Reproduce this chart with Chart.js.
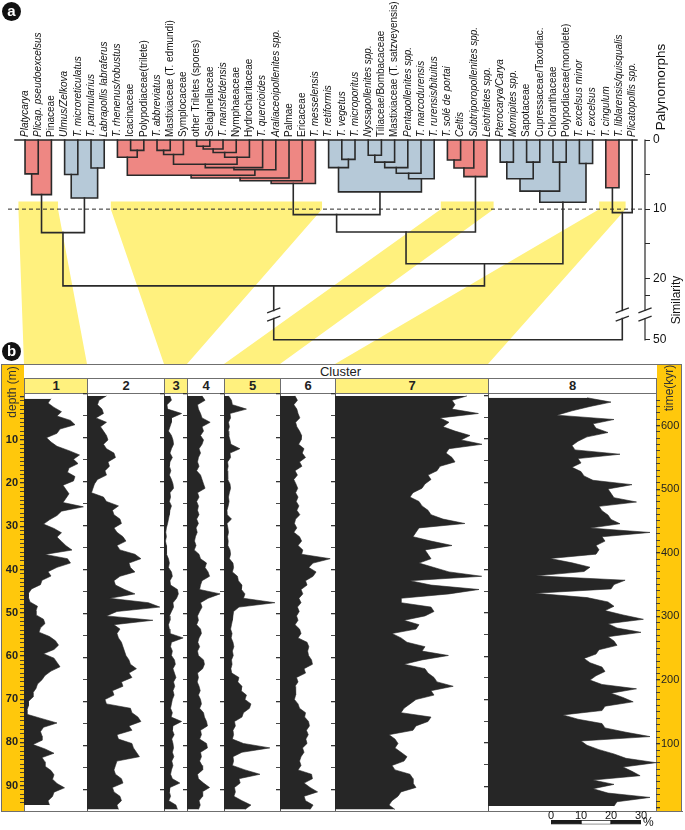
<!DOCTYPE html>
<html lang="en">
<head>
<meta charset="utf-8">
<title>Palynomorph clusters: dendrogram and cluster curves</title>
<script src="https://cdn.jsdelivr.net/npm/chart.js@4.4.1/dist/chart.umd.min.js"></script>
<style>
  html, body { margin:0; padding:0; background:#fff; }
  #fig { position:relative; width:685px; height:830px; overflow:hidden;
         font-family:"Liberation Sans", Arial, Helvetica, sans-serif; color:#1a1a1a; }
  #fig canvas { position:absolute; }
  .box { position:absolute; box-sizing:border-box; }
  .rot { position:absolute; white-space:nowrap; transform:translate(-50%,-50%) rotate(-90deg); }
  .badge { position:absolute; width:19px; height:19px; border-radius:50%; background:#111; color:#fff;
           font-weight:bold; font-size:15px; line-height:18px; text-align:center; z-index:6; }
</style>
</head>
<body>
<div id="fig"></div>
<script>
// ======================= DATA =======================
const leafNames = [
  'Platycarya', 'Plicap. pseudoexcelsus', 'Pinaceae', 'Ulmus/Zelkova', 'T. microreticulatus',
  'T. parmularius', 'Labrapollis labraferus', 'T. rhenenus/robustus', 'Icacinaceae', 'Polypodiaceae(trilete)',
  'T. abbreviatus', 'Mastixiaceae (T. edmundi)', 'Symplocaceae', 'other Triletes (spores)', 'Selaginellaceae',
  'T. mansfeldensis', 'Nymphaeaceae', 'Hydrocharitaceae', 'T. quercioides', 'Araliaceoipollenites spp.',
  'Palmae', 'Ericaceae', 'T. messelensis', 'T. retiformis', 'T. vegetus',
  'T. microporitus', 'Nyssapollenites spp.', 'Tiliaceae/Bombacaceae', 'Mastixiaceae (T. satzveyensis)', 'Pentapollenites spp.',
  'T. marcodurensis', 'T. rurensis/bituitus', 'T. solé de portai', 'Celtis', 'Subtriporopollenites spp.',
  'Leiotriletes spp.', 'Pterocarya/Carya', 'Momipites spp.', 'Sapotaceae', 'Cupressaceae/Taxodiac.',
  'Chloranthaceae', 'Polypodiaceae(monolete)', 'T. excelsus minor', 'T. excelsus', 'T. cingulum',
  'T. liblarensis/quisqualis', 'Plicatopollis spp.'
];
const leafItalic = [
  1,1,0,1,1, 1,1,1,0,0, 1,0,0,0,0, 1,0,0,1,1, 0,0,1,1,1,
  1,1,0,0,1, 1,1,1,1,1, 1,1,1,0,0, 0,0,1,1,1, 1,1
];
const leafCluster = [
  1,1,1, 2,2,2,2,
  3,3,3,3,3,3,3,3,3,3,3,3,3,3,3,3,
  4,4,4,4,4,4,4,4,4,
  5,5,5,5,
  6,6,6,6,6,6,6,6,
  7,7, 8
];
// merges: [child A, child B, similarity]; leaves are 0..46, merge k gets id 47+k
const merges = [
  [0, 1, 4.9], [47, 2, 7.9],
  [3, 4, 5.0], [5, 6, 4.05], [49, 50, 8.4],
  [8, 9, 1.5], [7, 52, 2.5], [10, 11, 1.5], [54, 12, 2.1], [13, 14, 0.9],
  [56, 15, 1.3], [57, 16, 1.8], [58, 17, 2.5], [55, 59, 3.5], [60, 18, 4.0],
  [61, 19, 4.3], [53, 62, 5.1], [63, 20, 5.5], [64, 21, 5.9], [65, 22, 6.3],
  [24, 25, 2.8], [23, 67, 4.0], [26, 27, 2.2], [69, 28, 3.2], [70, 29, 4.0],
  [71, 30, 4.8], [72, 31, 5.6], [68, 73, 7.5],
  [32, 33, 2.9], [75, 34, 4.05], [76, 35, 5.3],
  [36, 37, 3.2], [38, 39, 3.2], [40, 41, 3.2], [42, 43, 3.4], [78, 79, 5.6],
  [82, 80, 7.4], [83, 81, 9.0],
  [44, 45, 6.9],
  [66, 74, 10.8], [86, 77, 13.3], [87, 84, 17.9], [48, 51, 13.4], [89, 88, 21.1],
  [85, 46, 10.5], [90, 91, 50]
];
const simTickValues = [0, 5, 10, 15, 20, 22.5, 50];
const simTickLabels = ['0', '', '10', '', '20', '', '50'];
const CUT_SIM = 10;
const BAND_TOP_SIM = 8.9;
const linkedClusters = [1, 3, 5, 7];

const depthM = [
  0.5, 1.5, 2.5, 3.5, 4.5, 5.5, 6.5, 7.5, 8.5, 9.5,
  10.5, 11.5, 12.5, 13.5, 14.5, 15.5, 16.5, 17.5, 18.5, 19.5,
  20.5, 21.5, 22.5, 23.5, 24.5, 25.5, 26.5, 27.5, 28.5, 29.5,
  30.5, 31.5, 32.5, 33.5, 34.5, 35.5, 36.5, 37.5, 38.5, 39.5,
  40.5, 41.5, 42.5, 43.5, 44.5, 45.5, 46.5, 47.5, 48.5, 49.5,
  50.5, 51.5, 52.5, 53.5, 54.5, 55.5, 56.5, 57.5, 58.5, 59.5,
  60.5, 61.5, 62.5, 63.5, 64.5, 65.5, 66.5, 67.5, 68.5, 69.5,
  70.5, 71.5, 72.5, 73.5, 74.5, 75.5, 76.5, 77.5, 78.5, 79.5,
  80.5, 81.5, 82.5, 83.5, 84.5, 85.5, 86.5, 87.5, 88.5, 89.5,
  90.5, 91.5, 92.5, 93.5, 94.5
];
const cluster1 = [
  9, 8, 10, 12.5, 11, 15.5, 17, 12, 11, 7.5,
  9, 11, 15, 18.5, 16.5, 18, 15, 14.5, 17, 16.5,
  13, 14, 15, 14, 13, 19.8, 12.5, 11, 8.5, 6.5,
  10, 12.5, 11, 12.5, 14, 16, 7, 14.5, 15.5, 11,
  8, 9, 6, 5.5, 2.5, 1.5, 1.5, 2, 4.5, 4,
  4, 6.5, 7, 5.5, 5, 8.5, 10.5, 11.5, 10, 6.5,
  10, 11, 12, 9, 7, 6, 4.5, 4, 3, 3,
  1.5, 1.5, 1, 1, 6, 11, 6.5, 5.5, 6, 6,
  3, 7, 10, 6, 7, 7, 9, 10, 9.5, 11,
  13.5, 10, 9.5, 8, 8.5
];
const cluster2 = [
  6.5, 4, 3.5, 5, 5.5, 3, 6.5, 4.5, 5.5, 6.5,
  7, 5.5, 6.5, 9, 9.5, 7, 7.5, 6, 6.5, 3.5,
  2.5, 2, 1.5, 5.5, 6.5, 10.5, 8.5, 9, 11, 11.5,
  9, 10, 12, 13, 10, 11, 16, 18, 14, 14.5,
  16, 11, 9, 9.5, 12.5, 16, 7.5, 20.5, 24.3, 10,
  6.5, 22, 9, 11, 10, 10.5, 11.5, 12, 12.5, 13,
  14, 14.5, 16.5, 14, 15, 11.5, 12, 8.5, 9, 6,
  6.5, 14.5, 15, 17, 18, 14, 15, 10, 10.5, 15,
  15.5, 16.5, 17.5, 10, 9.5, 9, 9.5, 11.5, 12, 8.5,
  9, 11, 11.5, 10, 10.5
];
const cluster3 = [
  2, 2.5, 1, 1.2, 5.9, 2.5, 2.5, 2, 1.5, 2.5,
  3, 3.2, 2.5, 2, 2.8, 2, 1.8, 2.3, 1.8, 2.5,
  3, 3.2, 2, 2.2, 1.8, 2.5, 2, 1.8, 1.5, 1.2,
  0.8, 0.6, 0.8, 0.5, 0.8, 0.7, 1, 1.5, 1.8, 1.5,
  2.5, 2.8, 2, 2.2, 4.5, 4.8, 4.2, 3, 3.2, 2.5,
  1.8, 2, 1.5, 1.8, 2, 6.4, 2.5, 2.2, 2.8, 2.5,
  3.5, 3.8, 3, 3.5, 4, 3.2, 3.6, 3, 3.4, 2.8,
  2.5, 2.2, 2.8, 2.4, 5.9, 3, 2.8, 3.4, 2.6, 3,
  3.2, 2.8, 3.3, 2.6, 3, 2.5, 2.2, 2.8, 5.3, 2,
  1.8, 2.2, 1.6, 4, 4.5
];
const cluster4 = [
  5, 6, 3.5, 3.8, 4.5, 5, 7.7, 5, 5.5, 4.5,
  5.5, 5, 4, 4.5, 3.8, 3.5, 4, 3.2, 4.5, 5,
  5.5, 6, 3.5, 4, 3.2, 3.8, 3.5, 4, 3.2, 3.8,
  3, 3.4, 2.8, 2.5, 3, 2.4, 4, 4.5, 6.5, 6,
  7, 7.5, 5, 4.5, 4.2, 11, 7, 4.5, 5, 4.2,
  3.5, 3.8, 3.2, 4.5, 4.8, 4, 3.6, 4.2, 3.5, 3.8,
  5.5, 5.8, 5.2, 3.5, 3.8, 3.4, 4, 4.4, 3.8, 4.5,
  4.8, 4.2, 5.5, 5.8, 6.5, 6.8, 4.5, 4.8, 4.2, 6.5,
  6.8, 4.5, 4.8, 4.2, 5, 5.2, 3.5, 3.8, 5.5, 7.5,
  5, 5.2, 4, 4.4, 3.8
];
const cluster5 = [
  1.5, 2.5, 2.8, 7.5, 2, 2.2, 1.5, 1.8, 1.4, 1.6,
  2, 2.3, 5.3, 2, 2.2, 1.2, 1.4, 1.1, 1.3, 1.2,
  2, 2.2, 1.8, 1.5, 1.7, 1.4, 1, 1.1, 2.5, 1,
  1.3, 1.5, 1.2, 1.4, 1.3, 2, 2.2, 1.8, 3, 3.2,
  2.8, 4.5, 4.8, 6, 5.8, 7, 6.5, 17, 5, 3.2,
  3, 2.8, 2.5, 2.2, 2.7, 2.4, 3, 3.3, 2.8, 3.1,
  2.5, 2.7, 2.3, 2.6, 5, 4.6, 6, 5.7, 7.5, 7,
  9, 8.5, 6.5, 6, 3.5, 3.8, 3, 3.2, 2.8, 6.5,
  15.3, 6, 3, 3.2, 2.8, 7, 12, 5, 5.4, 3.5,
  3.8, 3.3, 6, 9, 7
];
const cluster6 = [
  5, 5.8, 4.6, 5.6, 6, 6.6, 5.2, 5.6, 6.5, 7.2,
  7, 6.2, 8, 7.4, 8.5, 6.5, 7.3, 5, 5.8, 4.6,
  5.3, 5.9, 5.2, 6, 5.4, 6.3, 5.6, 6.6, 5.2, 4.8,
  5.6, 4.6, 6.5, 7.2, 6, 7.6, 7.2, 16.7, 11, 9.6,
  12, 11, 8.5, 9, 7, 7.6, 6.3, 7, 5.8, 6.4,
  5.5, 6, 5, 6.5, 7, 6, 9, 9.6, 9.2, 9.5,
  10.5, 10.8, 8, 8.5, 5.5, 6, 5, 5.3, 5.1, 4.8,
  6, 6.5, 8.5, 8.2, 9.5, 9.8, 8.8, 9.4, 8.6, 9,
  7.5, 8, 7, 6.5, 7, 6, 10.5, 10.8, 8, 10,
  12.5, 8, 8.5, 11, 10
];
const cluster7 = [
  44, 39, 40, 39, 47.8, 35, 38, 36, 40, 45,
  42, 49, 38, 37, 39, 40, 35, 34, 31, 32,
  30, 29, 26, 25, 28, 29, 31, 32, 36, 43.3,
  28, 27, 26, 32, 39, 30, 31, 32, 28, 33,
  38, 48.9, 25, 32, 48, 38, 22, 22, 32, 33,
  30, 23, 28, 27, 19, 22, 24, 30, 29, 37.8,
  29, 23, 30, 31, 33, 34, 39.4, 32, 33, 27,
  25, 23, 22, 32, 31, 27, 26, 18, 20, 21,
  20, 22, 24, 23, 19, 20, 25, 26, 26, 27,
  22, 21, 19, 18, 20
];
const cluster8 = [
  33, 41, 34, 28, 23, 42, 35, 36, 40, 33,
  30, 28, 29, 44, 30, 31, 28, 31, 32, 35,
  48, 40, 41, 42, 49.5, 37, 38, 40, 41, 44,
  34, 54, 38, 39, 36, 37, 36, 20.7, 28, 34,
  32, 16, 45.7, 42, 41, 15.7, 33, 40, 42, 39,
  45, 51.8, 40, 43, 51, 40, 42, 43, 37, 36,
  32, 34, 38, 39, 36, 34, 38, 49.5, 41, 45,
  48.4, 39, 38, 25, 30, 38, 39, 46, 54, 31,
  33, 37, 42, 46, 56, 45, 48, 50.7, 35, 42,
  35, 40, 54, 43, 42
];
const clusterValues = [cluster1, cluster2, cluster3, cluster4, cluster5, cluster6, cluster7, cluster8];
const clusterNames = ['1', '2', '3', '4', '5', '6', '7', '8'];
const clusterMax = [21, 25.7, 7.7, 12.3, 18.7, 18.3, 51, 56];   // % range of each column
const DEPTH_MAX = 94.8, TIME_MAX = 647;
const depthLabels = [10, 20, 30, 40, 50, 60, 70, 80, 90];
const timeLabels = [100, 200, 300, 400, 500, 600];
const scaleBarTicks = [0, 10, 20, 30];
const scaleBarSegments = [10, 10, 10];

// ======================= STYLE / LAYOUT =======================
const FONT = '"Liberation Sans", Arial, Helvetica, sans-serif';
const RED = '#EE8783', BLUE = '#B6C9D8', BAND = '#FFF17E', GOLD = '#FFC80C';
const INK = '#2a2a2a', AREA = '#262626', FRAME = '#6f6f6f';
const PX_PER_PCT = 3, PANEL_LEFT = 24, PANEL_TOP = 364, ROW1 = 378, ROW2 = 393, PLOT_BOTTOM = 811;
const XMIN = -1.29, XMAX = 46.97;
const SIM_LIN = 25, SIM_TOP = 50, T_TOP = 28.9, BRK_LO = 24.64, BRK_HI = 25.83;
const T = s => s <= SIM_LIN ? s : SIM_LIN + (s - SIM_LIN) * (T_TOP - SIM_LIN) / (SIM_TOP - SIM_LIN);

Chart.defaults.font.family = FONT;
Chart.defaults.color = '#1a1a1a';
const fig = document.getElementById('fig');

function makeCanvas(left, top, w, h, z) {
  const c = document.createElement('canvas');
  c.width = w; c.height = h;
  c.style.left = left + 'px'; c.style.top = top + 'px';
  c.style.width = w + 'px'; c.style.height = h + 'px';
  c.style.zIndex = z;
  fig.appendChild(c);
  return c;
}
function addDiv(cls, css, text) {
  const d = document.createElement('div');
  d.className = cls;
  Object.assign(d.style, css);
  if (text !== undefined) d.textContent = text;
  fig.appendChild(d);
  return d;
}
const baseOpts = {
  responsive: false, animation: false, events: [], devicePixelRatio: 1,
  plugins: { legend: { display: false }, tooltip: { enabled: false } }
};

// ======================= DENDROGRAM (panel a) =======================
const N = leafNames.length;
const nx = leafNames.map((_, i) => i);
const nh = leafNames.map(() => 0);
const firstLeaf = leafNames.map((_, i) => i);
merges.forEach(m => {
  nx.push((nx[m[0]] + nx[m[1]]) / 2);
  nh.push(T(m[2]));
  firstLeaf.push(Math.min(firstLeaf[m[0]], firstLeaf[m[1]]));
});

const dsets = [];
const slashXs = [];
function lineDs(pts, extra) {
  return Object.assign({ data: pts, showLine: true, pointRadius: 0, borderColor: INK, borderWidth: 1.6,
    fill: false, order: 1, clip: false, borderCapStyle: 'square' }, extra || {});
}
function splitBreaks(pts) {
  const out = []; let cur = [pts[0]];
  for (let k = 1; k < pts.length; k++) {
    const p = pts[k - 1], q = pts[k];
    const lo = Math.min(p.y, q.y), hi = Math.max(p.y, q.y);
    if (p.x === q.x && lo < BRK_LO && hi > BRK_HI) {
      const down = q.y > p.y;
      cur.push({ x: p.x, y: down ? BRK_LO : BRK_HI });
      out.push(cur);
      slashXs.push(p.x);
      cur = [{ x: p.x, y: down ? BRK_HI : BRK_LO }, q];
    } else cur.push(q);
  }
  out.push(cur);
  return out;
}
// coloured cluster boxes
merges.forEach((m, k) => {
  if (m[2] >= CUT_SIM) return;
  const cl = leafCluster[firstLeaf[N + k]];
  const h = T(m[2]);
  dsets.push({ data: [{ x: nx[m[0]], y: h }, { x: nx[m[1]], y: h }], showLine: true, pointRadius: 0,
    borderWidth: 0, borderColor: 'transparent', backgroundColor: cl % 2 ? RED : BLUE,
    fill: { value: 0 }, order: 3, clip: false });
});
// dendrogram links
merges.forEach(m => {
  const a = m[0], b = m[1], h = T(m[2]);
  const pts = [{ x: nx[a], y: nh[a] }, { x: nx[a], y: h }, { x: nx[b], y: h }, { x: nx[b], y: nh[b] }];
  splitBreaks(pts).forEach(seg => dsets.push(lineDs(seg)));
});
// baseline (similarity 0), cut line, similarity axis line
dsets.push(lineDs([{ x: -0.76, y: 0 }, { x: 46.36, y: 0 }], { borderWidth: 1.5 }));
dsets.push(lineDs([{ x: XMIN, y: T(CUT_SIM) }, { x: 46.8, y: T(CUT_SIM) }],
  { borderWidth: 1, borderDash: [4, 3], borderCapStyle: 'butt' }));
splitBreaks([{ x: XMAX, y: 0 }, { x: XMAX, y: T_TOP }]).forEach(seg => dsets.push(lineDs(seg, { borderWidth: 1.2 })));
// break marks
slashXs.forEach(x => {
  [BRK_LO, BRK_HI].forEach(yc => {
    dsets.push(lineDs([{ x: x - 0.5, y: yc + 0.36 }, { x: x + 0.5, y: yc - 0.36 }], { borderWidth: 1.3, borderCapStyle: 'butt' }));
  });
});

const dCanvas = makeCanvas(0, 0, 685, 350, 3);
const dChart = new Chart(dCanvas, {
  type: 'scatter',
  data: { datasets: dsets },
  options: Object.assign({}, baseOpts, {
    layout: { padding: { left: 8, right: 0, top: 0, bottom: 8 } },
    scales: {
      x: {
        type: 'linear', position: 'top', min: XMIN, max: XMAX,
        afterFit: s => { s.height = 140; },
        afterBuildTicks: s => { s.ticks = leafNames.map((_, i) => ({ value: i })); },
        grid: { display: false, drawTicks: false }, border: { display: false },
        ticks: {
          autoSkip: false, minRotation: 90, maxRotation: 90, padding: 3, labelOffset: 12, color: '#111',
          font: c => ({ family: FONT, size: 10, style: leafItalic[c.index] ? 'italic' : 'normal' }),
          callback: v => leafNames[v] ?? ''
        }
      },
      y: {
        type: 'linear', position: 'right', reverse: true, min: 0, max: T_TOP,
        afterFit: s => { s.width = 40; },
        afterBuildTicks: s => { s.ticks = simTickValues.map(v => ({ value: T(v) })); },
        grid: { drawOnChartArea: false, drawTicks: true, tickLength: 5, color: INK, lineWidth: 1 },
        border: { display: false },
        ticks: { autoSkip: false, padding: 3, font: { size: 12 }, color: '#111',
                 callback: (v, i) => simTickLabels[i] }
      }
    }
  })
});

// ======================= PANEL b FRAME (HTML) =======================
const colEdges = [PANEL_LEFT];
clusterMax.forEach((mx, i) => colEdges.push(Math.round(colEdges[i] + mx * PX_PER_PCT)));
const PANEL_RIGHT = colEdges[colEdges.length - 1];
const bord = '1px solid ' + FRAME;

addDiv('box', { left: '1px', top: PANEL_TOP + 'px', width: (PANEL_LEFT - 1 + 1) + 'px',
  height: (PLOT_BOTTOM - PANEL_TOP + 1) + 'px', background: GOLD, border: bord, zIndex: 2 });
addDiv('box', { left: PANEL_RIGHT + 'px', top: PANEL_TOP + 'px', width: '26px',
  height: (PLOT_BOTTOM - PANEL_TOP + 1) + 'px', background: GOLD, border: bord, zIndex: 2 });
addDiv('box', { left: PANEL_LEFT + 'px', top: PANEL_TOP + 'px', width: (PANEL_RIGHT - PANEL_LEFT + 1) + 'px',
  height: (ROW1 - PANEL_TOP + 1) + 'px', borderTop: bord, borderBottom: bord, zIndex: 2, background: '#fff',
  fontSize: '13px', lineHeight: '13px', textAlign: 'center', color: '#222' }, 'Cluster');
clusterNames.forEach((nm, i) => {
  addDiv('box', { left: colEdges[i] + 'px', top: ROW1 + 'px', width: (colEdges[i + 1] - colEdges[i] + 1) + 'px',
    height: (ROW2 - ROW1 + 1) + 'px', border: bord, zIndex: 2,
    background: linkedClusters.includes(i + 1) ? BAND : '#fff',
    fontSize: '13px', fontWeight: 'bold', lineHeight: '14px', textAlign: 'center', color: '#222' }, nm);
  if (i > 0) addDiv('box', { left: colEdges[i] + 'px', top: ROW2 + 'px', width: '1px',
    height: (PLOT_BOTTOM - ROW2) + 'px', background: '#555', zIndex: 2 });
});
addDiv('box', { left: '1px', top: PLOT_BOTTOM + 'px', width: (PANEL_RIGHT + 26) + 'px', height: '1px',
  background: FRAME, zIndex: 2 });

// ======================= CLUSTER CURVES (panel b) =======================
const colCharts = [];
clusterValues.forEach((vals, i) => {
  const isFirst = i === 0, isLast = i === clusterValues.length - 1;
  const left = colEdges[i], right = colEdges[i + 1];
  const leftW = isFirst ? left : 4;
  const rightW = isLast ? 26 : 0;
  const cLeft = left - leftW;
  const cv = makeCanvas(cLeft, 388, leftW + (right - left) + rightW, 427, 4);
  const scales = {
    x: { type: 'linear', min: 0, max: clusterMax[i], display: false },
    y: {
      type: 'linear', position: 'left', reverse: true, min: 0, max: DEPTH_MAX,
      afterFit: s => { s.width = leftW; },
      afterBuildTicks: s => {
        const step = isFirst ? 1 : 5; s.ticks = [];
        for (let v = 0; v <= DEPTH_MAX; v += step) s.ticks.push({ value: v });
      },
      grid: { drawOnChartArea: false, drawTicks: true, tickLength: 4, color: '#333',
              lineWidth: c => (c.tick && c.tick.value % 10 === 0) ? 1.3 : 0.9 },
      border: { display: false },
      ticks: { display: isFirst, autoSkip: false, padding: 2, font: { size: 11, weight: 'bold' }, color: '#222',
               callback: v => depthLabels.includes(v) ? String(v) : '' }
    }
  };
  if (isLast) {
    scales.yt = {
      type: 'linear', position: 'right', min: 0, max: TIME_MAX,
      afterFit: s => { s.width = rightW; },
      afterBuildTicks: s => { s.ticks = []; for (let v = 0; v <= TIME_MAX; v += 10) s.ticks.push({ value: v }); },
      grid: { drawOnChartArea: false, drawTicks: true, tickLength: 4, color: '#333',
              lineWidth: c => (c.tick && c.tick.value % 100 === 0) ? 1.3 : 0.9 },
      border: { display: false },
      ticks: { autoSkip: false, padding: 1, font: { size: 11 }, color: '#222',
               callback: v => timeLabels.includes(v) ? String(v) : '' }
    };
  }
  const ch = new Chart(cv, {
    type: 'line',
    data: { datasets: [{
      data: depthM.map((d, k) => ({ x: vals[k], y: d })),
      borderColor: AREA, backgroundColor: AREA, borderWidth: 0.6, pointRadius: 0,
      fill: 'origin', tension: 0
    }] },
    options: Object.assign({}, baseOpts, {
      indexAxis: 'y',
      layout: { padding: { top: 5.7, bottom: 4.2, left: 0, right: 0 } },
      scales
    })
  });
  colCharts.push({ chart: ch, left: cLeft });
});

// ======================= SCALE BAR =======================
const sbCanvas = makeCanvas(535, 804, 140, 26, 5);
new Chart(sbCanvas, {
  type: 'bar',
  data: { labels: [''], datasets: scaleBarSegments.map((v, k) => ({
    data: [v], backgroundColor: k % 2 ? '#fff' : '#1a1a1a', borderColor: '#1a1a1a', borderWidth: 1,
    borderSkipped: false, barPercentage: 1, categoryPercentage: 1 })) },
  options: Object.assign({}, baseOpts, {
    indexAxis: 'y',
    layout: { padding: { left: 16, right: 140 - 16 - 30 * PX_PER_PCT, top: 0, bottom: 5.5 } },
    scales: {
      x: { type: 'linear', stacked: true, position: 'top', min: 0, max: 30,
           afterFit: s => { s.height = 16; },
           afterBuildTicks: s => { s.ticks = scaleBarTicks.map(v => ({ value: v })); },
           grid: { display: false, drawTicks: false }, border: { display: false },
           ticks: { padding: -3, font: { size: 11 }, color: '#111' } },
      y: { stacked: true, display: false }
    }
  })
});
addDiv('box', { left: '643px', top: '815px', fontSize: '12px', color: '#111', zIndex: 5 }, '%');

// ======================= CONNECTOR BANDS (overlay) =======================
const xs = dChart.scales.x, ys = dChart.scales.y;
const yTop = ys.getPixelForValue(T(BAND_TOP_SIM)), yCut = ys.getPixelForValue(T(CUT_SIM));
const bands = linkedClusters.map(c => {
  const first = leafCluster.indexOf(c), last = leafCluster.lastIndexOf(c);
  const xl = xs.getPixelForValue(first - 0.5), xr = xs.getPixelForValue(last + 0.5);
  const cc = colCharts[c - 1];
  const colL = cc.left + cc.chart.chartArea.left, colR = cc.left + cc.chart.chartArea.right;
  return [{ x: xl, y: yTop }, { x: xr, y: yTop }, { x: xr, y: yCut },
          { x: colR, y: PANEL_TOP }, { x: colL, y: PANEL_TOP }, { x: xl, y: yCut }];
});
const ovCanvas = makeCanvas(0, 0, 685, 830, 1);
new Chart(ovCanvas, {
  type: 'scatter',
  data: { datasets: bands.map(p => ({ data: p, showLine: true, pointRadius: 0, borderWidth: 0,
    borderColor: 'transparent', backgroundColor: BAND, fill: 'shape' })) },
  options: Object.assign({}, baseOpts, {
    layout: { padding: 0 },
    scales: { x: { type: 'linear', min: 0, max: 685, display: false },
              y: { type: 'linear', min: 0, max: 830, reverse: true, display: false } }
  })
});

// ======================= TEXT LABELS =======================
addDiv('badge', { left: '2px', top: '2px' }, 'a');
addDiv('badge', { left: '2px', top: '342px' }, 'b');
addDiv('rot', { left: '660px', top: '87px', fontSize: '13.5px', color: '#111', zIndex: 5 }, 'Palynomorphs');
addDiv('rot', { left: '676px', top: '300px', fontSize: '12px', color: '#111', zIndex: 5 }, 'Similarity');
addDiv('rot', { left: '12px', top: '392px', fontSize: '12px', color: '#333', zIndex: 5 }, 'depth (m)');
addDiv('rot', { left: '669px', top: '388px', fontSize: '12px', color: '#333', zIndex: 5 }, 'time(kyr)');
</script>
</body>
</html>
